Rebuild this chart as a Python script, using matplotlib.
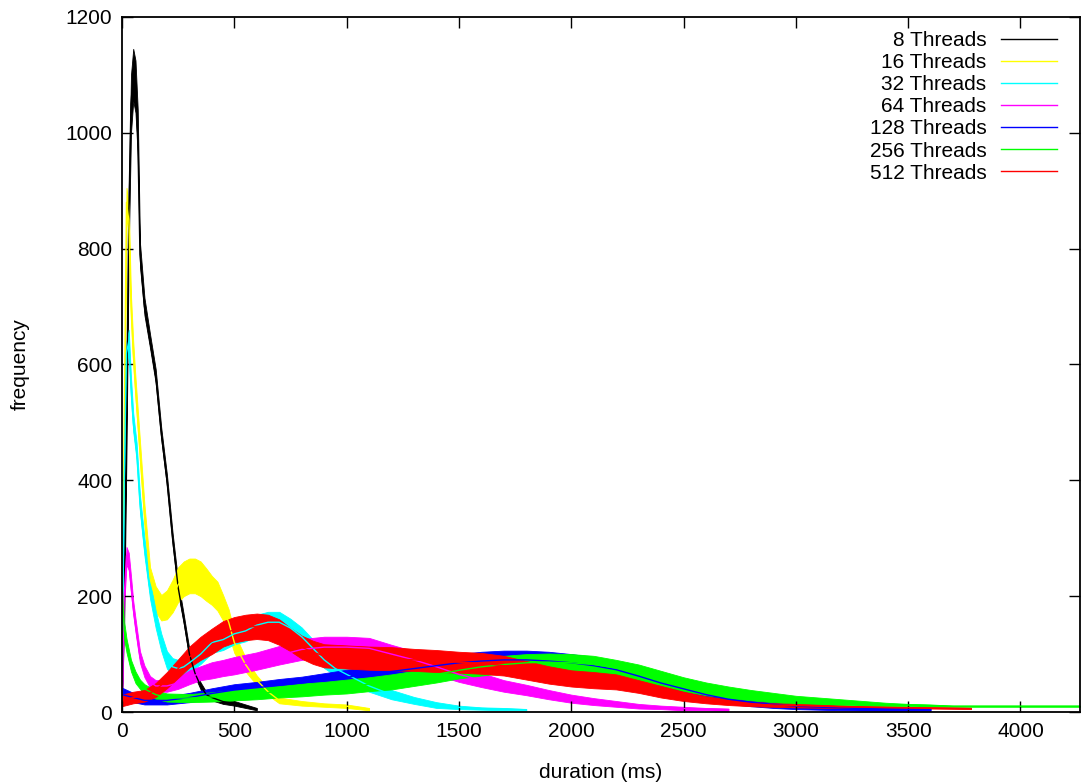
import numpy as np
import matplotlib
matplotlib.use("Agg")
import matplotlib.pyplot as plt

plt.rcParams["font.family"] = ["Liberation Sans", "DejaVu Sans"]

# -----------------------------
# DATA (duration in ms / frequency)
# each series: x points, mid value, half width of the noise band
# -----------------------------
x_8 = [0, 10, 20, 30, 40, 50, 60, 70, 80, 100, 125, 150, 175, 200, 225, 250, 275,
       300, 325, 350, 375, 400, 450, 500, 550, 600]
y_8 = [20, 200, 500, 850, 1050, 1100, 1080, 1000, 790, 700, 640, 580, 480, 400, 300,
       215, 160, 100, 67, 45, 30, 25, 18, 15, 10, 5]
s_8 = [5, 40, 50, 50, 50, 45, 45, 40, 20, 15, 12, 12, 10, 10, 10, 10, 8, 8, 6, 6,
       5, 5, 4, 4, 3, 2]

x_16 = [0, 10, 20, 30, 40, 50, 60, 80, 100, 125, 150, 175, 200, 225, 250, 275, 300,
        325, 350, 375, 400, 425, 450, 475, 500, 525, 550, 575, 600, 650, 700, 800,
        900, 1000, 1100]
y_16 = [50, 500, 880, 850, 700, 620, 560, 450, 340, 230, 195, 180, 185, 200, 220,
        230, 235, 235, 230, 220, 210, 200, 180, 155, 120, 100, 82, 68, 55, 35, 20,
        15, 12, 10, 5]
s_16 = [10, 20, 25, 25, 20, 20, 18, 18, 18, 20, 22, 22, 25, 28, 30, 30, 30, 30, 30,
        28, 25, 25, 22, 22, 18, 15, 12, 10, 8, 6, 5, 4, 3, 3, 2]

x_32 = [0, 10, 20, 30, 40, 50, 65, 80, 100, 125, 150, 175, 200, 225, 250, 275, 300,
        350, 400, 450, 500, 550, 600, 650, 700, 750, 800, 850, 900, 950, 1000, 1100,
        1200, 1300, 1400, 1500, 1600, 1700, 1800]
y_32 = [30, 400, 620, 640, 560, 500, 450, 360, 285, 210, 160, 120, 90, 78, 75, 78,
        85, 100, 120, 125, 135, 140, 150, 155, 155, 145, 130, 110, 90, 75, 65, 45,
        30, 20, 12, 8, 6, 5, 4]
s_32 = [8, 20, 20, 20, 18, 16, 15, 15, 15, 15, 15, 15, 15, 15, 15, 15, 16, 17, 18,
        18, 18, 18, 18, 18, 18, 16, 16, 15, 14, 12, 12, 10, 8, 6, 5, 3, 2, 2, 1]

x_64 = [0, 10, 20, 30, 40, 50, 60, 80, 100, 125, 150, 200, 250, 300, 350, 400, 450,
        500, 600, 700, 800, 900, 1000, 1100, 1200, 1300, 1400, 1500, 1600, 1700,
        1800, 1900, 2000, 2100, 2200, 2300, 2400, 2500, 2600, 2700]
y_64 = [20, 200, 270, 260, 220, 180, 150, 95, 70, 52, 45, 45, 50, 60, 67, 72, 76,
        80, 88, 98, 108, 112, 112, 110, 100, 90, 78, 65, 55, 45, 38, 30, 23, 18,
        14, 10, 8, 6, 5, 4]
s_64 = [6, 15, 15, 15, 15, 12, 12, 10, 10, 10, 10, 10, 10, 12, 12, 14, 14, 15, 15,
        16, 18, 18, 18, 18, 16, 15, 14, 13, 12, 10, 9, 8, 7, 6, 5, 4, 3, 3, 2, 2]

x_128 = [0, 50, 100, 200, 300, 400, 500, 600, 700, 800, 900, 1000, 1100, 1200, 1300,
         1400, 1500, 1600, 1700, 1800, 1900, 2000, 2100, 2200, 2300, 2400, 2500, 2600,
         2700, 2800, 2900, 3000, 3200, 3400, 3600]
y_128 = [30, 25, 20, 20, 25, 32, 38, 42, 46, 50, 55, 60, 65, 70, 75, 80, 85, 88, 90,
         90, 88, 85, 80, 73, 62, 50, 40, 30, 22, 17, 13, 10, 7, 5, 4]
s_128 = [12, 8, 7, 7, 8, 9, 10, 10, 11, 11, 12, 13, 13, 14, 14, 15, 15, 16, 16, 16,
         16, 15, 15, 14, 13, 12, 11, 10, 8, 7, 6, 5, 4, 3, 2]

x_256 = [0, 10, 20, 40, 60, 80, 100, 150, 200, 300, 400, 500, 600, 700, 800, 900,
         1000, 1100, 1200, 1300, 1400, 1500, 1600, 1700, 1800, 1900, 2000, 2100, 2200,
         2300, 2400, 2500, 2600, 2700, 2800, 2900, 3000, 3100, 3200, 3300, 3400, 3500,
         3600, 3700, 3800, 4265]
y_256 = [220, 140, 115, 80, 60, 48, 40, 30, 25, 24, 26, 29, 32, 35, 38, 41, 44, 48,
         52, 58, 65, 72, 78, 82, 85, 86, 85, 82, 76, 68, 58, 48, 40, 34, 29, 25, 21,
         19, 17, 15, 13, 12, 11, 10, 10, 10]
s_256 = [20, 15, 12, 10, 10, 8, 8, 7, 7, 7, 8, 9, 10, 10, 11, 11, 12, 12, 13, 13, 14,
         14, 15, 15, 15, 15, 15, 15, 14, 14, 13, 12, 11, 10, 9, 8, 7, 6, 5, 4, 3, 2,
         2, 1, 1, 1]

x_512 = [0, 50, 100, 150, 200, 250, 300, 350, 400, 450, 500, 550, 600, 650, 700, 750,
         800, 850, 900, 1000, 1100, 1200, 1300, 1400, 1500, 1600, 1700, 1800, 1900,
         2000, 2100, 2200, 2300, 2400, 2500, 2600, 2700, 2800, 2900, 3000, 3200, 3400,
         3600, 3780]
y_512 = [20, 25, 28, 38, 55, 75, 95, 110, 122, 135, 142, 146, 148, 146, 138, 125,
         112, 103, 97, 95, 93, 92, 90, 88, 86, 84, 80, 72, 64, 58, 55, 52, 44, 35,
         27, 21, 17, 14, 12, 11, 9, 8, 7, 6]
s_512 = [10, 10, 10, 12, 14, 16, 18, 20, 22, 22, 22, 22, 22, 22, 22, 20, 20, 20, 20,
         20, 20, 20, 19, 19, 18, 18, 17, 16, 15, 14, 14, 13, 11, 10, 8, 6, 5, 4, 3,
         3, 2, 1, 1, 1]

labels = ["8 Threads", "16 Threads", "32 Threads", "64 Threads",
          "128 Threads", "256 Threads", "512 Threads"]
colors = ["#000000", "#ffff00", "#00ffff", "#ff00ff", "#0000ff", "#00ff00", "#ff0000"]
series = [(x_8, y_8, s_8), (x_16, y_16, s_16), (x_32, y_32, s_32), (x_64, y_64, s_64),
          (x_128, y_128, s_128), (x_256, y_256, s_256), (x_512, y_512, s_512)]

# -----------------------------
# PLOT
# -----------------------------
fig = plt.figure(figsize=(10.81, 7.83), dpi=100)
ax = fig.add_axes([122 / 1081, 1 - 712 / 783, 958 / 1081, 695 / 783])

for (xs, ys, ss), lab, col in zip(series, labels, colors):
    xs = np.array(xs, dtype=float)
    ys = np.array(ys, dtype=float)
    ss = np.array(ss, dtype=float)
    ax.fill_between(xs, np.clip(ys - ss, 0, None), ys + ss, color=col, lw=0.6,
                    edgecolor=col)
    ax.plot(xs, ys, color=col, lw=1, label=lab)

ax.set_xlim(0, 4265)
ax.set_ylim(0, 1200)
ax.set_xticks(np.arange(0, 4001, 500))
ax.set_yticks(np.arange(0, 1201, 200))
ax.tick_params(direction="in", length=8, width=1, top=True, right=True,
               labelsize=15, pad=7)
for sp in ax.spines.values():
    sp.set_linewidth(1.3)

ax.set_xlabel("duration (ms)", fontsize=15, labelpad=16)
ax.set_ylabel("frequency", fontsize=15, labelpad=26)

leg = ax.legend(loc="upper right", bbox_to_anchor=(0.985, 0.992), frameon=False,
                markerfirst=False, fontsize=15, handlelength=2.7,
                handletextpad=0.7, labelspacing=0.15, borderaxespad=0)

plt.savefig("out.png", dpi=100)
plt.close()
